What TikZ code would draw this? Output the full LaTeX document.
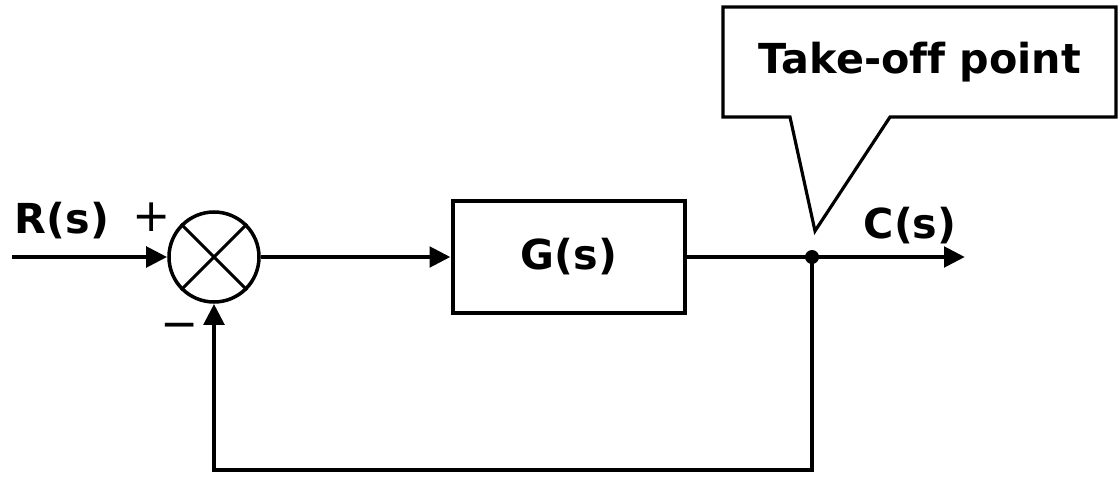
\documentclass[tikz,border=0pt]{standalone}
\usepackage{fontspec}
\setmainfont[Ligatures={NoCommon}]{DejaVu Sans}
\usepackage{tikz}
\usetikzlibrary{arrows.meta}
\usetikzlibrary{shapes,calc}
\tikzstyle{sig}=[line width=2.8pt, -{Triangle[length=0.42cm,width=0.4cm]}]
\tikzstyle{wire}=[line width=2.8pt]
\tikzstyle{lbl}=[font=\fontsize{23.5}{28}\selectfont\bfseries]

\begin{document}
\begin{tikzpicture}
\useasboundingbox (0,0) rectangle (22.38,9.64);
% summing point and plant
\node[draw, circle, line width=2pt, minimum size=1.8cm, inner sep=0pt] (sum) at (4.28,4.5) {};
\draw[line width=1.7pt] (sum.north east) -- (sum.south west);
\draw[line width=1.7pt] (sum.north west) -- (sum.south east);
\node[draw, rectangle, line width=2.8pt, minimum width=4.64cm, minimum height=2.24cm, lbl] (G) at (11.38,4.5) {G(s)};
\coordinate (in) at (0.24,4.5);
\coordinate (tp) at (16.24,4.5);
\coordinate (out) at (19.3,4.5);
\coordinate (fb) at (16.24,0.24);
\fill (tp) circle (0.14);
\draw[sig] (in) -- (sum.west);
\draw[sig] (sum.east) -- (G.west);
\draw[wire] (G.east) -- (tp);
\draw[sig] (tp) -- (out);
\draw[sig] (tp) -- (fb) -| (sum.south);
% labels
\node[lbl] (R) at (1.24,5.22) {R(s)};
\node[lbl] (C) at (18.2,5.12) {C(s)};
\node[font=\fontsize{26}{30}\selectfont] (plus) at (3.04,5.3) {+};
\node[font=\fontsize{26}{30}\selectfont] (minus) at (3.6,3.02) {\textminus};
% callout for the branch point
\coordinate (tip) at (16.3,5.02);
\draw[line width=1.8pt, fill=white] (15.8,7.3) -- (tip) -- (17.8,7.3) -- (22.32,7.3) -- (22.32,9.5) -- (14.46,9.5) -- (14.46,7.3) -- cycle;
\node[lbl] (take) at (18.4,8.4) {Take-off point};
\end{tikzpicture}
\end{document}
